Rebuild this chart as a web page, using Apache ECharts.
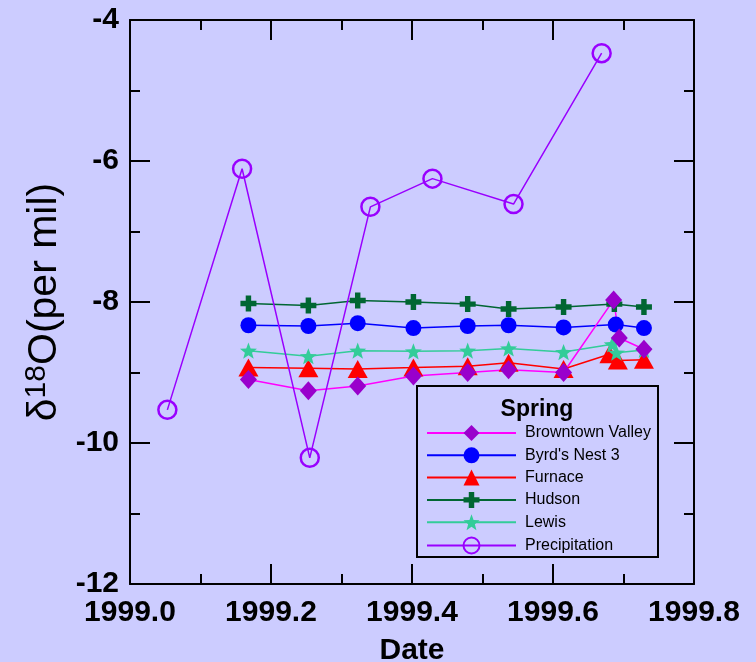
<!DOCTYPE html>
<html>
<head>
<meta charset="utf-8">
<title>Spring δ18O</title>
<script src="https://cdn.jsdelivr.net/npm/echarts@6/dist/echarts.min.js"></script>
<style>
  html, body { margin: 0; padding: 0; background: #CCCCFF; }
  #chart { width: 756px; height: 662px; }
</style>
</head>
<body>
<div id="chart"></div>
<script>
// Sampling dates (decimal years) and δ18O values (per mil) for each spring
const browntownDates = [1999.168, 1999.253, 1999.323, 1999.402, 1999.479, 1999.537, 1999.615, 1999.686, 1999.694, 1999.729];
const browntownValues = [-9.10, -9.26, -9.19, -9.05, -9.00, -8.96, -9.00, -7.97, -8.51, -8.67];

const byrdsDates = [1999.168, 1999.253, 1999.323, 1999.402, 1999.479, 1999.537, 1999.615, 1999.689, 1999.729];
const byrdsValues = [-8.33, -8.34, -8.30, -8.37, -8.34, -8.33, -8.36, -8.32, -8.37];

const furnaceDates = [1999.168, 1999.253, 1999.323, 1999.402, 1999.479, 1999.537, 1999.615, 1999.680, 1999.692, 1999.729];
const furnaceValues = [-8.93, -8.94, -8.95, -8.93, -8.91, -8.86, -8.95, -8.74, -8.83, -8.82];

const hudsonDates = [1999.168, 1999.253, 1999.323, 1999.402, 1999.479, 1999.537, 1999.615, 1999.687, 1999.729];
const hudsonValues = [-8.02, -8.05, -7.98, -8.00, -8.03, -8.10, -8.07, -8.03, -8.07];

const lewisDates = [1999.168, 1999.253, 1999.323, 1999.402, 1999.479, 1999.537, 1999.615, 1999.684, 1999.690, 1999.729];
const lewisValues = [-8.69, -8.77, -8.69, -8.70, -8.69, -8.66, -8.71, -8.60, -8.72, -8.68];

const precipDates = [1999.053, 1999.159, 1999.255, 1999.341, 1999.429, 1999.544, 1999.669];
const precipValues = [-9.53, -6.11, -10.21, -6.65, -6.25, -6.61, -4.47];

const xTicks = { min: 1999.0, max: 1999.8, step: 0.2 };
const yTicks = { min: -12, max: -4, step: 2 };

const legendOrder = ['Browntown Valley', "Byrd's Nest 3", 'Furnace', 'Hudson', 'Lewis', 'Precipitation'];

const FONT = '"Liberation Sans", Arial, Helvetica, sans-serif';
const PLUS = 'path://M33,0H67V33H100V67H67V100H33V67H0V33H33Z';
const STAR = 'path://M50,0L62.3,33L97.6,34.5L70,56.5L79.4,90.5L50,71L20.6,90.5L30,56.5L2.4,34.5L37.7,33Z';

function pairs(xs, ys) {
  return xs.map((x, i) => [x, ys[i]]);
}

function lineSeries(name, xs, ys, lineColor, symbol, size, itemStyle, extra) {
  return Object.assign({
    name: name,
    type: 'line',
    data: pairs(xs, ys),
    symbol: symbol,
    symbolSize: size,
    symbolKeepAspect: true,
    lineStyle: { color: lineColor, width: 1.5 },
    itemStyle: itemStyle,
    emphasis: { disabled: true },
    animation: false
  }, extra || {});
}

function boxAxis(kind, position, showLabel) {
  return {
    type: 'value',
    position: position,
    min: kind === 'x' ? xTicks.min : yTicks.min,
    max: kind === 'x' ? xTicks.max : yTicks.max,
    interval: kind === 'x' ? xTicks.step : yTicks.step,
    axisLine: { show: true, onZero: false, lineStyle: { color: '#000', width: 2 } },
    axisTick: { show: true, inside: true, length: 20, lineStyle: { color: '#000', width: 2 } },
    minorTick: { show: true, splitNumber: 2, length: 10, lineStyle: { color: '#000', width: 2 } },
    splitLine: { show: false },
    minorSplitLine: { show: false },
    axisLabel: {
      show: showLabel,
      fontSize: 30,
      fontWeight: 'bold',
      fontFamily: FONT,
      color: '#000',
      margin: kind === 'x' ? 14 : 11,
      formatter: kind === 'x' ? (v => v.toFixed(1)) : (v => String(v))
    }
  };
}

const chart = echarts.init(document.getElementById('chart'), null, { renderer: 'canvas' });

const xMain = boxAxis('x', 'bottom', true);
xMain.name = 'Date';
xMain.nameLocation = 'middle';
xMain.nameGap = 52;
xMain.nameTextStyle = { fontSize: 30, fontWeight: 'bold', color: '#000', fontFamily: FONT };

const yMain = boxAxis('y', 'left', true);
yMain.name = '{d|δ}{s|18}{d|O(per mil)}';
yMain.nameLocation = 'middle';
yMain.nameGap = 60;
yMain.nameTextStyle = {
  color: '#000',
  fontFamily: FONT,
  rich: {
    d: { fontSize: 41, fontFamily: FONT, color: '#000', lineHeight: 45 },
    s: { fontSize: 30, fontFamily: FONT, color: '#000', verticalAlign: 'top', lineHeight: 45 }
  }
};

chart.setOption({
  backgroundColor: '#CCCCFF',
  animation: false,
  grid: {
    left: 130, right: 62, top: 20, bottom: 78,
    containLabel: false,
    outerBoundsMode: 'none'
  },
  xAxis: [xMain, boxAxis('x', 'top', false)],
  yAxis: [yMain, boxAxis('y', 'right', false)],
  legend: {
    data: legendOrder,
    orient: 'vertical',
    left: 426,
    top: 425,
    padding: 0,
    itemWidth: 89,
    itemHeight: 20,
    itemGap: 6.3,
    selectedMode: false,
    lineStyle: { width: 2 },
    textStyle: { fontSize: 16, color: '#000', fontFamily: FONT, padding: [0, 0, 0, 4] }
  },
  graphic: [
    {
      type: 'rect',
      shape: { x: 417, y: 386, width: 241, height: 171 },
      style: { fill: 'none', stroke: '#000', lineWidth: 2 },
      z: 1
    },
    {
      type: 'text',
      x: 537,
      y: 410,
      style: {
        text: 'Spring',
        fontSize: 23,
        fontWeight: 'bold',
        fontFamily: FONT,
        fill: '#000',
        align: 'center',
        verticalAlign: 'middle'
      }
    }
  ],
  series: [
    lineSeries('Furnace', furnaceDates, furnaceValues, '#FF0000', 'triangle', [20, 18],
      { color: '#FF0000' }),
    lineSeries('Lewis', lewisDates, lewisValues, '#33CC99', STAR, 17,
      { color: '#33CC99' }),
    lineSeries('Hudson', hudsonDates, hudsonValues, '#006633', PLUS, 16,
      { color: '#006633' }),
    lineSeries("Byrd's Nest 3", byrdsDates, byrdsValues, '#0000FF', 'circle', 16,
      { color: '#0000FF' }),
    lineSeries('Browntown Valley', browntownDates, browntownValues, '#FF00FF', 'diamond', [17, 19],
      { color: '#9900CC' }, { symbolKeepAspect: false }),
    lineSeries('Precipitation', precipDates, precipValues, '#9900FF', 'circle', 18,
      { color: 'rgba(0,0,0,0)', borderColor: '#9900FF', borderWidth: 2.5 })
  ]
});
</script>
</body>
</html>
